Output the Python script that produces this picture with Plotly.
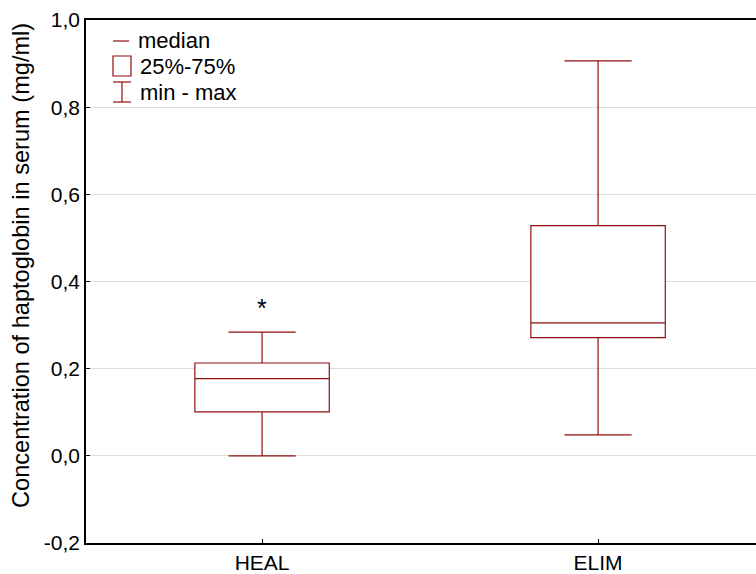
import plotly.graph_objects as go

categories = ["HEAL", "ELIM"]
mins = [0.0, 0.048]
q1s = [0.101, 0.271]
medians = [0.177, 0.305]
q3s = [0.213, 0.528]
maxs = [0.284, 0.906]
star_y = [0.35]
y_ticks = [-0.2, 0.0, 0.2, 0.4, 0.6, 0.8, 1.0]
y_tick_labels = ["-0,2", "0,0", "0,2", "0,4", "0,6", "0,8", "1,0"]

W, H = 756, 574
ML, MR, MT, MB = 86, 0, 20, 31
RED = "#8f0f0f"
FONT = "Liberation Sans, Arial, sans-serif"

fig = go.Figure()
fig.add_trace(go.Box(
    x=categories, q1=q1s, median=medians, q3=q3s,
    lowerfence=mins, upperfence=maxs,
    boxpoints=False, width=0.4, whiskerwidth=0.5,
    line=dict(color=RED, width=1.2), fillcolor="white",
    showlegend=False, hoverinfo="skip",
))

pw = W - ML - MR
ph = H - MT - MB


def px(x):  # page pixel -> paper
    return (x - ML) / pw


def py(y):
    return (H - MB - y) / ph


shapes = [
    dict(type="line", xref="paper", yref="paper", x0=px(113), x1=px(129), y0=py(41), y1=py(41),
         line=dict(color=RED, width=1.2)),
    dict(type="rect", xref="paper", yref="paper", x0=px(113), x1=px(131), y0=py(56), y1=py(76),
         line=dict(color=RED, width=1.2)),
    dict(type="line", xref="paper", yref="paper", x0=px(113), x1=px(131), y0=py(82), y1=py(82),
         line=dict(color=RED, width=1.2)),
    dict(type="line", xref="paper", yref="paper", x0=px(113), x1=px(131), y0=py(102), y1=py(102),
         line=dict(color=RED, width=1.2)),
    dict(type="line", xref="paper", yref="paper", x0=px(122), x1=px(122), y0=py(82), y1=py(102),
         line=dict(color=RED, width=1.2)),
]
annotations = []
for txt, yy, xx in [("median", 40, 136), ("25%-75%", 66, 138), ("min - max", 92, 138)]:
    annotations.append(dict(xref="paper", yref="paper", x=px(xx), y=py(yy), text=txt,
                            showarrow=False, xanchor="left", yanchor="middle",
                            font=dict(size=22, color="black", family=FONT)))
annotations.append(dict(xref="paper", yref="paper", x=px(21), y=py(266),
                        text="Concentration of haptoglobin in serum (mg/ml)",
                        textangle=-90, showarrow=False, xanchor="center", yanchor="middle",
                        font=dict(size=23.6, color="black", family=FONT)))
annotations.append(dict(xref="x", yref="y", x=categories[0], y=star_y[0], text="*",
                        showarrow=False, xanchor="center", yanchor="middle", yshift=-5,
                        font=dict(size=25, color="black", family=FONT)))

fig.update_layout(
    width=W, height=H,
    margin=dict(l=ML, r=MR, t=MT, b=MB, autoexpand=False),
    paper_bgcolor="white", plot_bgcolor="white",
    separators=",.",
    font=dict(family=FONT, size=21, color="black"),
    shapes=shapes, annotations=annotations,
    xaxis=dict(range=[-0.524, 1.47], showline=True, linecolor="black", linewidth=1.5,
               mirror=True, ticks="inside", ticklen=4, tickcolor="black",
               showgrid=False, zeroline=False, tickfont=dict(size=21), automargin=False),
    yaxis=dict(range=[-0.2, 1.0], tickvals=y_ticks, ticktext=y_tick_labels,
               showline=True, linecolor="black", linewidth=1.5, mirror=False,
               ticks="inside", ticklen=4, tickcolor="black",
               showgrid=True, gridcolor="#dddddd", gridwidth=1, zeroline=False,
               tickfont=dict(size=21), automargin=False),
)

fig.write_html(
    "out.html",
    config={"displayModeBar": False},
    post_script="document.body.style.margin='0';document.body.style.overflow='hidden';",
)
